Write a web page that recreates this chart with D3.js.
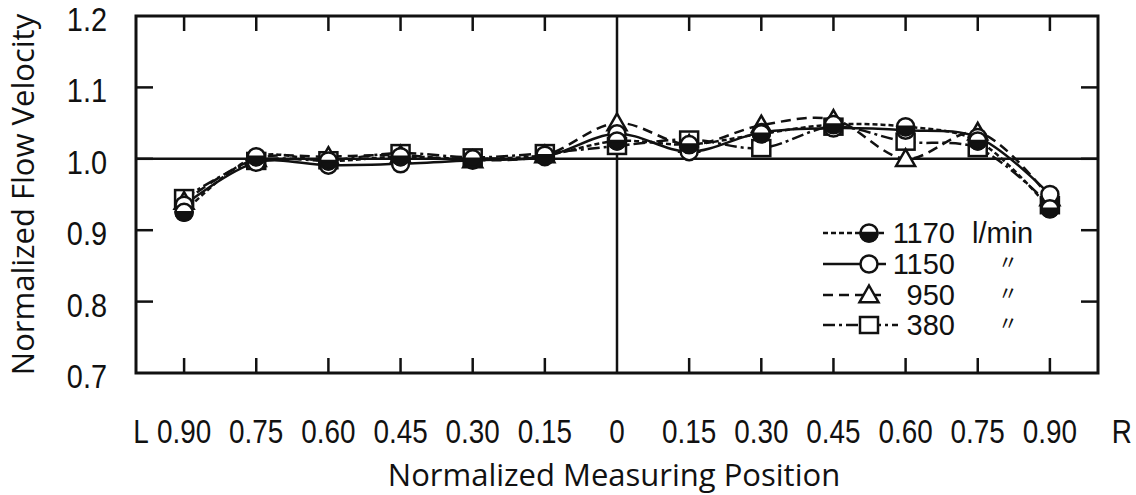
<!DOCTYPE html>
<html>
<head>
<meta charset="utf-8">
<script src="https://cdn.jsdelivr.net/npm/d3@7"></script>
<style>
  body { margin: 0; background: #fff; }
  svg { display: block; }
  .tick-label { font-family: "Liberation Sans", sans-serif; font-size: 34px; fill: #111; }
  .title { font-family: "Open Sans", "DejaVu Sans", sans-serif; font-size: 31px; fill: #111; }
  .legend-text { font-family: "Liberation Sans", sans-serif; font-size: 29px; fill: #111; }
</style>
</head>
<body>
<svg id="chart" width="1136" height="495"></svg>
<script>
// measuring positions, L side negative, R side positive
var positions = [-0.90, -0.75, -0.60, -0.45, -0.30, -0.15, 0, 0.15, 0.30, 0.45, 0.60, 0.75, 0.90];
var v1170 = [0.925, 1.003, 0.997, 1.003, 1.000, 1.005, 1.025, 1.020, 1.035, 1.048, 1.045, 1.025, 0.930];
var v1150 = [0.935, 0.995, 0.991, 0.993, 0.998, 1.003, 1.035, 1.010, 1.037, 1.043, 1.040, 1.030, 0.950];
var v950  = [0.940, 1.000, 1.003, 1.005, 0.998, 1.005, 1.050, 1.020, 1.047, 1.055, 1.000, 1.037, 0.945];
var v380  = [0.945, 0.997, 0.998, 1.008, 1.002, 1.008, 1.018, 1.027, 1.015, 1.045, 1.024, 1.015, 0.935];

var xTickLabels = ["0.90", "0.75", "0.60", "0.45", "0.30", "0.15", "0", "0.15", "0.30", "0.45", "0.60", "0.75", "0.90"];
var yTicks = [0.7, 0.8, 0.9, 1.0, 1.1, 1.2];
var yTickLabels = ["0.7", "0.8", "0.9", "1.0", "1.1", "1.2"];
var legendLabels = ["1170", "1150", "950", "380"];

(function() {
    var svg = d3.select("#chart");
    var plotLeft = 136, plotRight = 1098, plotTop = 16, plotBottom = 373;

    var x = d3.scaleLinear().domain([-1, 1]).range([plotLeft, plotRight]);
    var y = d3.scaleLinear().domain([0.7, 1.2]).range([plotBottom, plotTop]);

    var series = [
        {name: "1170", values: v1170, marker: "half", dash: "5,3"},
        {name: "1150", values: v1150, marker: "circle", dash: null},
        {name: "950", values: v950, marker: "triangle", dash: "10,6"},
        {name: "380", values: v380, marker: "square", dash: "12,4,3,4"}
    ];

    var ink = "#111";

    // frame
    svg.append("rect")
        .attr("x", plotLeft).attr("y", plotTop)
        .attr("width", plotRight - plotLeft).attr("height", plotBottom - plotTop)
        .attr("fill", "none").attr("stroke", ink).attr("stroke-width", 3);

    // inner ticks on all four sides
    var tl = 15;
    positions.forEach(function(p) {
        if (p === 0) return;
        svg.append("line").attr("x1", x(p)).attr("x2", x(p)).attr("y1", plotBottom).attr("y2", plotBottom - tl)
            .attr("stroke", ink).attr("stroke-width", 2.5);
        svg.append("line").attr("x1", x(p)).attr("x2", x(p)).attr("y1", plotTop).attr("y2", plotTop + tl)
            .attr("stroke", ink).attr("stroke-width", 2.5);
    });
    yTicks.forEach(function(t) {
        if (t === 0.7 || t === 1.2) return;
        svg.append("line").attr("x1", plotLeft).attr("x2", plotLeft + 17).attr("y1", y(t)).attr("y2", y(t))
            .attr("stroke", ink).attr("stroke-width", 2.5);
        svg.append("line").attr("x1", plotRight).attr("x2", plotRight - 17).attr("y1", y(t)).attr("y2", y(t))
            .attr("stroke", ink).attr("stroke-width", 2.5);
    });

    // reference cross: 1.0 and centre
    svg.append("line").attr("x1", plotLeft).attr("x2", plotRight).attr("y1", y(1.0)).attr("y2", y(1.0))
        .attr("stroke", ink).attr("stroke-width", 2.5);
    svg.append("line").attr("x1", x(0)).attr("x2", x(0)).attr("y1", plotTop).attr("y2", plotBottom)
        .attr("stroke", ink).attr("stroke-width", 2.5);

    // tick labels (narrowed, like the plotter lettering)
    var labelY = 443;
    svg.selectAll(".xlab").data(positions).enter().append("text")
        .attr("class", "tick-label")
        .attr("transform", function(d) { return "translate(" + x(d) + "," + labelY + ") scale(0.82,1)"; })
        .attr("text-anchor", "middle")
        .text(function(d, i) { return xTickLabels[i]; });
    svg.append("text").attr("class", "tick-label")
        .attr("transform", "translate(" + (x(-0.9) - 43) + "," + labelY + ") scale(0.82,1)")
        .attr("text-anchor", "middle").text("L");
    svg.append("text").attr("class", "tick-label")
        .attr("transform", "translate(" + (x(0.9) + 72) + "," + labelY + ") scale(0.82,1)")
        .attr("text-anchor", "middle").text("R");

    svg.selectAll(".ylab").data(yTicks).enter().append("text")
        .attr("class", "tick-label")
        .attr("transform", function(d) { return "translate(107," + (y(d) + 15) + ") scale(0.85,1)"; })
        .attr("text-anchor", "end")
        .text(function(d, i) { return yTickLabels[i]; });

    // axis titles
    svg.append("text").attr("class", "title")
        .attr("x", 614).attr("y", 486).attr("text-anchor", "middle")
        .text("Normalized Measuring Position");
    svg.append("text").attr("class", "title")
        .attr("transform", "translate(34," + ((plotTop + plotBottom) / 2) + ") rotate(-90)")
        .attr("text-anchor", "middle")
        .text("Normalized Flow Velocity");

    // markers
    function drawMarker(g, type, cx, cy) {
        if (type === "circle" || type === "half") {
            g.append("circle").attr("cx", cx).attr("cy", cy).attr("r", 8.5)
                .attr("fill", "#fff").attr("stroke", ink).attr("stroke-width", 2.5);
            if (type === "half") {
                g.append("path")
                    .attr("d", "M" + (cx - 8.5) + "," + cy + " A8.5,8.5 0 0,0 " + (cx + 8.5) + "," + cy + " Z")
                    .attr("fill", ink).attr("stroke", ink).attr("stroke-width", 2.5);
            }
        } else if (type === "triangle") {
            var s = 9.5;
            g.append("path")
                .attr("d", "M" + cx + "," + (cy - s) + " L" + (cx + s) + "," + (cy + s * 0.75) + " L" + (cx - s) + "," + (cy + s * 0.75) + " Z")
                .attr("fill", "#fff").attr("stroke", ink).attr("stroke-width", 2.5);
        } else {
            g.append("rect").attr("x", cx - 9).attr("y", cy - 8).attr("width", 18).attr("height", 16)
                .attr("fill", "#fff").attr("stroke", ink).attr("stroke-width", 2.5);
        }
    }

    var line = d3.line()
        .x(function(d, i) { return x(positions[i]); })
        .y(function(d) { return y(d); })
        .curve(d3.curveCatmullRom.alpha(0.5));

    var lineLayer = svg.append("g");
    var markerLayer = svg.append("g");

    series.forEach(function(s) {
        lineLayer.append("path")
            .attr("d", line(s.values))
            .attr("fill", "none")
            .attr("stroke", ink)
            .attr("stroke-width", 2.5)
            .attr("stroke-dasharray", s.dash);
    });
    // squares and triangles underneath, circles on top
    [series[3], series[2], series[1], series[0]].forEach(function(s) {
        s.values.forEach(function(v, i) {
            drawMarker(markerLayer, s.marker, x(positions[i]), y(v));
        });
    });

    // legend
    var legend = svg.append("g");
    var rowY = [233, 264, 295, 325];
    series.forEach(function(s, i) {
        var yy = rowY[i];
        legend.append("line")
            .attr("x1", 823).attr("x2", i === 3 ? 898 : 886)
            .attr("y1", yy).attr("y2", yy)
            .attr("stroke", ink).attr("stroke-width", 2.5)
            .attr("stroke-dasharray", s.dash);
        drawMarker(legend, s.marker, 869, yy);
        legend.append("text").attr("class", "legend-text")
            .attr("x", 955).attr("y", yy + 10)
            .attr("text-anchor", "end")
            .text(legendLabels[i]);
        if (i === 0) {
            legend.append("text").attr("class", "legend-text")
                .attr("x", 972).attr("y", yy + 10)
                .text("l/min");
        } else {
            legend.append("text")
                .attr("x", 998).attr("y", yy + 6)
                .style("font-family", "'Noto Sans CJK JP', sans-serif")
                .style("font-size", "20px")
                .attr("fill", ink)
                .text("〃");
        }
    });
})();
</script>
</body>
</html>
